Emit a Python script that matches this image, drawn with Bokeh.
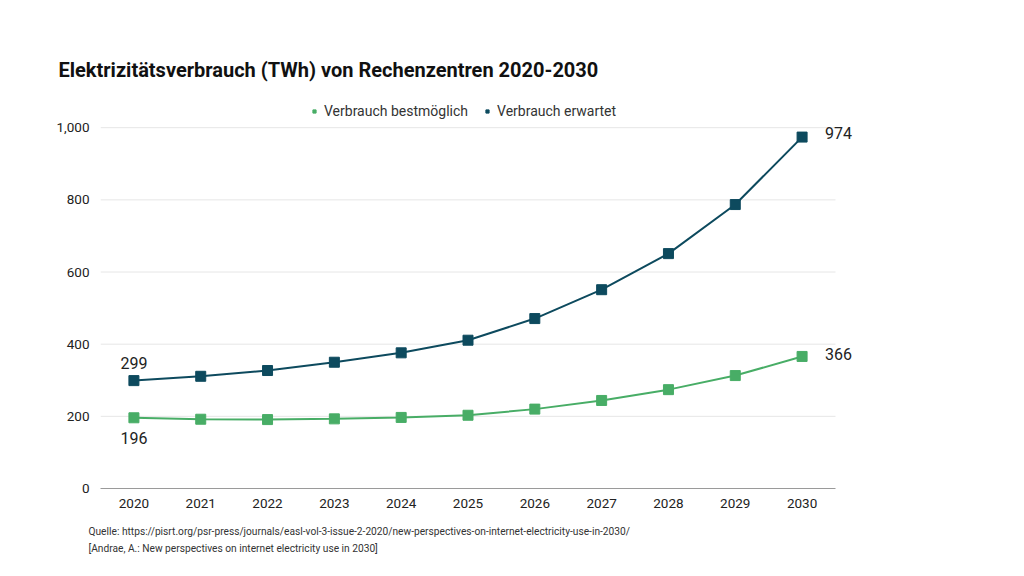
from bokeh.plotting import figure
from bokeh.models import (Range1d, FixedTicker, NumeralTickFormatter, Label, Legend,
                          LegendItem, ColumnDataSource, Title)
from bokeh.embed import file_html
from bokeh.resources import INLINE

years = [2020, 2021, 2022, 2023, 2024, 2025, 2026, 2027, 2028, 2029, 2030]
best = [196, 192, 191, 193, 197, 203, 220, 244, 274, 313, 366]
expected = [299, 311, 327, 350, 376, 411, 471, 551, 651, 787, 974]
series_names = ["Verbrauch bestmöglich", "Verbrauch erwartet"]
y_ticks = [0, 200, 400, 600, 800, 1000]

title_text = "Elektrizitätsverbrauch (TWh) von Rechenzentren 2020-2030"
source_line1 = "Quelle: https://pisrt.org/psr-press/journals/easl-vol-3-issue-2-2020/new-perspectives-on-internet-electricity-use-in-2030/"
source_line2 = "[Andrae, A.: New perspectives on internet electricity use in 2030]"

GREEN = "#48ad66"
DARK = "#0d4a5e"
FONT = "Roboto"

# layout (pixels)
W, H = 1008, 569
AX_L, AX_R = 100, 835          # extent of the category axis
AX_TOP_1000, AX_BOTTOM = 127.2, 488
FRAME_TOP, FRAME_RIGHT = 95, 862

px_per_year = (AX_R - AX_L) / len(years)
x_start = years[0] - 0.5
x_end = years[-1] + 0.5 + (FRAME_RIGHT - AX_R) / px_per_year
y_end = y_ticks[-1] * (AX_BOTTOM - FRAME_TOP) / (AX_BOTTOM - AX_TOP_1000)

p = figure(width=W, height=H, output_backend="svg", toolbar_location=None,
           x_range=Range1d(x_start, x_end), y_range=Range1d(0, y_end),
           min_border_left=AX_L, min_border_right=W - FRAME_RIGHT,
           min_border_top=FRAME_TOP, min_border_bottom=H - AX_BOTTOM)
p.outline_line_color = None
p.background_fill_color = "white"
p.border_fill_color = "white"

# title
p.title = Title(text=title_text, align="left", offset=-42, standoff=28, text_font=FONT,
                text_font_size="20px", text_font_style="bold", text_color="#111111")

# axes
p.xaxis.ticker = FixedTicker(ticks=years)
p.xaxis.bounds = (years[0] - 0.5, years[-1] + 0.5)
p.yaxis.ticker = FixedTicker(ticks=y_ticks)
p.yaxis.formatter = NumeralTickFormatter(format="0,0")
for ax in (p.xaxis[0], p.yaxis[0]):
    ax.major_tick_line_color = None
    ax.minor_tick_line_color = None
    ax.major_label_text_font = FONT
    ax.major_label_text_font_size = "13.5px"
    ax.major_label_text_color = "#222222"
p.xaxis.axis_line_color = "#9a9a9a"
p.xaxis.major_label_standoff = 4
p.yaxis.axis_line_color = None
p.yaxis.major_label_standoff = 5
p.grid.grid_line_color = None

# horizontal gridlines spanning only the category range
grid_vals = [v for v in y_ticks if v > 0]
p.segment(x0=[x_start] * len(grid_vals), x1=[years[-1] + 0.5] * len(grid_vals),
          y0=grid_vals, y1=grid_vals, line_color="#e6e6e6", line_width=1, level="underlay")

src = ColumnDataSource(dict(x=years, best=best, expected=expected))
p.line("x", "best", source=src, color=GREEN, line_width=2)
r1 = p.scatter("x", "best", source=src, marker="square", size=10, color=GREEN)
p.line("x", "expected", source=src, color=DARK, line_width=2)
r2 = p.scatter("x", "expected", source=src, marker="square", size=10, color=DARK)

legend = Legend(items=[LegendItem(label=series_names[0], renderers=[r1]),
                       LegendItem(label=series_names[1], renderers=[r2])],
                orientation="horizontal", location=(210, 369),
                label_text_font=FONT, label_text_font_size="14px",
                label_text_color="#333333", glyph_width=8, glyph_height=8,
                label_standoff=6, spacing=15, padding=0, margin=0,
                border_line_color=None, background_fill_alpha=0)
p.add_layout(legend, "center")

# value labels
lab_style = dict(text_font=FONT, text_font_size="16px", text_color="#222222",
                 text_baseline="middle")
p.add_layout(Label(x=years[0], y=expected[0], y_offset=18, text=str(expected[0]),
                   text_align="center", **lab_style))
p.add_layout(Label(x=years[0], y=best[0], y_offset=-20, text=str(best[0]),
                   text_align="center", **lab_style))
p.add_layout(Label(x=years[-1], y=expected[-1], x_offset=23, y_offset=4,
                   text=str(expected[-1]), text_align="left", **lab_style))
p.add_layout(Label(x=years[-1], y=best[-1], x_offset=23, y_offset=2,
                   text=str(best[-1]), text_align="left", **lab_style))

# small spacer between the axis and the source lines
p.add_layout(Title(text=" ", text_font_size="6px", standoff=0), "below")
# source lines (one two-line title below the axis)
p.add_layout(Title(text=source_line1 + "\n" + source_line2, align="left", offset=-12,
                   standoff=10, text_font=FONT, text_font_size="10.2px",
                   text_line_height=1.5, text_font_style="normal",
                   text_color="#333333"), "below")

open("out.html", "w").write(file_html(p, INLINE))
